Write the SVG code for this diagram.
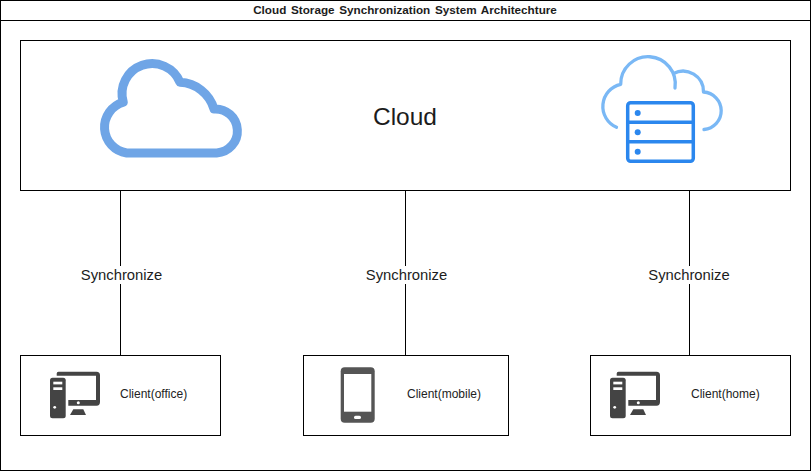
<svg xmlns="http://www.w3.org/2000/svg" width="811" height="471" viewBox="0 0 811 471">
<style>
.box{fill:#fff;stroke:#000;stroke-width:1}
.t{font-family:"Liberation Sans",Arial,sans-serif;fill:#1c1c1c}
.c{font-size:12px;fill:#222}
.s{font-size:14.800px;text-anchor:middle}
.line{stroke:#000;stroke-width:1;fill:none}
.lb{fill:#fff}
.d{fill:#444}
.w{fill:#fff}
</style>
<defs>
<g id="pc">
<path class="d" d="M58.500 371.700H96.500Q100 371.700 100 375.200V402Q100 405.700 96.500 405.700H68.300V400H96V375.700H56.700V373.500Q56.700 371.700 58.500 371.700Z"/>
<circle class="w" cx="78.300" cy="402.800" r="1.500"/>
<path class="d" d="M73.300 409.300H83.300L86 415H70Z"/>
<rect class="d" x="50" y="377.700" width="15.700" height="40.600" rx="2.500"/>
<rect class="w" x="53.300" y="381.700" width="9" height="2.700"/>
<rect class="w" x="53.300" y="387.300" width="9" height="2.700"/>
<circle class="w" cx="54.700" cy="407.300" r="1.400"/>
</g>
</defs>
<rect width="811" height="471" fill="#fff"/>
<g id="frame">
<rect class="box" x="0.500" y="0.500" width="810" height="470"/>
<line class="line" x1="0" y1="20.500" x2="811" y2="20.500"/>
<text class="t" x="405" y="14" font-size="11.700px" font-weight="bold" text-anchor="middle" word-spacing="1.500px">Cloud Storage Synchronization System Architechture</text>
</g>
<g id="connectors">
<line class="line" x1="120.500" y1="190.500" x2="120.500" y2="355.500"/>
<line class="line" x1="405.500" y1="190.500" x2="405.500" y2="355.500"/>
<line class="line" x1="689.500" y1="190.500" x2="689.500" y2="355.500"/>
<rect class="lb" x="80" y="266" width="83" height="18"/>
<rect class="lb" x="365" y="266" width="83" height="18"/>
<rect class="lb" x="648" y="266" width="83" height="18"/>
<text class="t s" x="121.500" y="280">Synchronize</text>
<text class="t s" x="406.500" y="280">Synchronize</text>
<text class="t s" x="689" y="280">Synchronize</text>
</g>
<g id="cloud">
<rect class="box" x="20.500" y="40.500" width="770" height="150"/>
<path d="M126.700 153H216.700A22 22 0 0 0 214 109A37 37 0 0 0 180 82.300A30.100 30.100 0 0 0 123.300 102.300A26 26 0 0 0 126.700 153Z" fill="#fff" stroke="#6fa5e6" stroke-width="9" stroke-linejoin="round"/>
<text class="t" x="405" y="125" font-size="24.500px" text-anchor="middle">Cloud</text>
<g fill="none" stroke="#7ab8f5" stroke-width="3.300" stroke-linecap="round" stroke-linejoin="round">
<path d="M616.500 127.300A22.700 22.700 0 0 1 620.700 84.300A27.300 27.300 0 1 1 675 88"/>
<path d="M673.500 73.500A20.500 20.500 0 0 1 703.500 92A18.800 18.800 0 0 1 704 129.500"/>
</g>
<g fill="none" stroke="#2b87ee" stroke-width="3.500">
<rect x="627.700" y="102.700" width="65.600" height="58.600" rx="3"/>
<line x1="627.700" y1="122.300" x2="693.300" y2="122.300"/>
<line x1="627.700" y1="141.700" x2="693.300" y2="141.700"/>
</g>
<g fill="#2b87ee">
<circle cx="637.700" cy="113" r="3"/>
<circle cx="637.700" cy="132.300" r="3"/>
<circle cx="637.700" cy="151.700" r="3"/>
</g>
</g>
<g id="client-office">
<rect class="box" x="20.500" y="355.500" width="200" height="80"/>
<use href="#pc"/>
<text class="t c" x="120" y="398">Client(office)</text>
</g>
<g id="client-mobile">
<rect class="box" x="303.500" y="355.500" width="205" height="80"/>
<rect x="340.700" y="367.300" width="34" height="55.400" rx="4" fill="#555"/>
<rect class="w" x="344" y="374" width="27.300" height="37.700"/>
<rect class="w" x="354" y="415.700" width="7" height="3.300" rx="1.600"/>
<text class="t c" x="407" y="398">Client(mobile)</text>
</g>
<g id="client-home">
<rect class="box" x="590.500" y="355.500" width="200" height="80"/>
<use href="#pc" transform="translate(560 0)"/>
<text class="t c" x="691" y="398">Client(home)</text>
</g>
</svg>
